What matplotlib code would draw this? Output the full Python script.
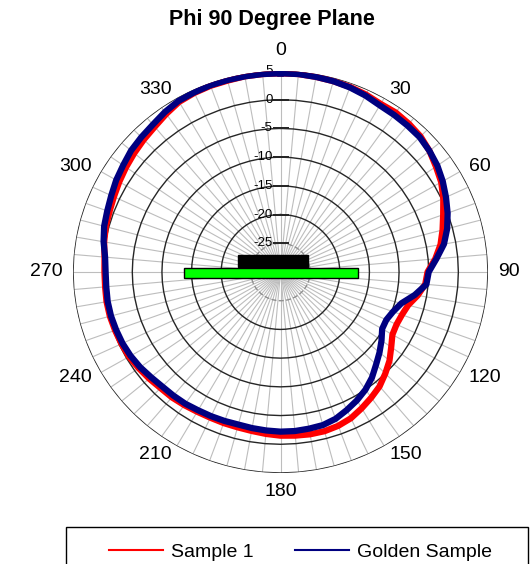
import numpy as np
import matplotlib
matplotlib.use('Agg')
import matplotlib.pyplot as plt
from matplotlib.patches import Rectangle
from matplotlib.transforms import offset_copy

plt.rcParams['font.family'] = ['Liberation Sans', 'DejaVu Sans']

# pattern data, dB every 5 degrees (0..355)
angles = np.arange(0, 360, 5)
sample1 = [4.6, 4.6, 4.5, 4.4, 4.3, 4.1, 3.8, 3.9, 3.7, 3.4, 2.8, 2.0,
           1.3, 0.3, -0.8, -1.7, -2.6, -3.8, -5.2, -5.5, -6.5, -7.7, -8.2, -8.4,
           -8.2, -7.2, -6.0, -5.0, -4.0, -3.3, -2.6, -1.9, -1.5, -1.3, -1.3, -1.4,
           -1.5, -1.7, -1.9, -2.0, -2.0, -2.0, -1.9, -1.7, -1.5, -1.4, -1.1, -0.8,
           -0.5, -0.4, -0.3, -0.2, -0.2, -0.3, -0.3, -0.2, 0.2, 0.5, 0.7, 1.0,
           1.4, 1.8, 2.2, 2.6, 3.0, 3.6, 4.2, 4.4, 4.5, 4.5, 4.6, 4.6]
golden = [4.6, 4.6, 4.5, 4.4, 4.2, 3.9, 3.5, 3.4, 3.3, 3.2, 2.8, 2.3,
          1.6, 0.8, 0.0, -0.9, -2.0, -3.6, -5.0, -5.3, -7.0, -8.9, -9.8, -10.3,
          -10.2, -9.2, -8.2, -7.2, -6.0, -5.0, -4.2, -3.5, -2.8, -2.4, -2.3, -2.2,
          -2.2, -2.3, -2.4, -2.5, -2.4, -2.3, -2.2, -2.0, -1.9, -1.8, -1.5, -1.1,
          -0.8, -0.6, -0.5, -0.4, -0.4, -0.5, -0.5, -0.3, 0.3, 0.8, 1.1, 1.5,
          2.0, 2.4, 2.9, 3.2, 3.5, 4.0, 4.4, 4.5, 4.6, 4.6, 4.6, 4.6]
rings = [-25, -20, -15, -10, -5, 0, 5]
angle_ticks = np.arange(0, 360, 30)

W, H = 532, 564
cx, cy, RX, RY = 280.5, 272, 207.5, 201
fig = plt.figure(figsize=(W / 100, H / 100), dpi=100)
ax = fig.add_axes([(cx - RX) / W, (H - cy - RY) / H, 2 * RX / W, 2 * RY / H], projection='polar')
ax.set_aspect('auto')
ax.set_theta_zero_location('N')
ax.set_theta_direction(-1)
ax.set_rlim(-30, 5)
ax.grid(False)
ax.spines['polar'].set_visible(False)
ax.set_yticks([])
ax.set_xticks([])

th = np.deg2rad(angles)
closed = np.append(th, th[0])

# spokes and polygon rings like excel radar
ax.vlines(th, -30, 5, colors='#bdbdbd', lw=0.8, zorder=1)
for r in rings:
    if r == -25:
        ax.plot(closed, np.full(closed.size, r), color='#909090', lw=1, ls='--', zorder=2)
    else:
        ax.plot(closed, np.full(closed.size, r), color='#262626', lw=1, zorder=2)
    ax.plot(0, r, marker='_', ms=12, mew=1.2, color='#262626', zorder=2)
    ax.text(0, r, str(r), transform=offset_copy(ax.transData, fig=fig, x=-8, y=0, units='dots'),
            ha='right', va='center', fontsize=9.5, zorder=3)

# angle labels just outside the outer ring
for a in angle_ticks:
    s, c = np.sin(np.deg2rad(a)), np.cos(np.deg2rad(a))
    ha = 'left' if s > 0.1 else ('right' if s < -0.1 else 'center')
    va = 'center' if abs(c) < 0.95 else ('bottom' if c > 0 else 'top')
    d = 12 if a == 0 else 10
    ax.text(np.deg2rad(a), 5, str(a),
            transform=offset_copy(ax.transData, fig=fig, x=d * s, y=d * c, units='dots'),
            ha=ha, va=va, fontsize=14)

l1, = ax.plot(closed, np.append(sample1, sample1[0]), color='red', lw=4.5, zorder=4)
l2, = ax.plot(closed, np.append(golden, golden[0]), color='#000080', lw=4.5, zorder=5)

# device sketch in the middle
fig.add_artist(Rectangle((238 / W, (H - 267) / H), 70 / W, 12 / H, transform=fig.transFigure,
                         fc='black', ec='black', zorder=6))
fig.add_artist(Rectangle((184 / W, (H - 278) / H), 174 / W, 10 / H, transform=fig.transFigure,
                         fc='#00ff00', ec='black', lw=1, zorder=7))

fig.text(272 / W, 1 - 20 / H, 'Phi 90 Degree Plane', ha='center', va='center',
         fontsize=15.5, fontweight='bold')

# legend box, cut off at the bottom
fig.add_artist(Rectangle((66 / W, -40 / H), (528 - 66) / W, 77 / H, transform=fig.transFigure,
                         fill=False, ec='black', lw=1))
leg = fig.legend(handles=[l1, l2], labels=['Sample 1', 'Golden Sample'], loc='center left',
                 bbox_to_anchor=(109 / W, (H - 552) / H), ncol=2, frameon=False, fontsize=14,
                 handlelength=2.8, handletextpad=0.4, columnspacing=2.1,
                 borderpad=0, borderaxespad=0)
for ln in leg.get_lines():
    ln.set_linewidth(1.5)

fig.savefig('out.png', dpi=100)
